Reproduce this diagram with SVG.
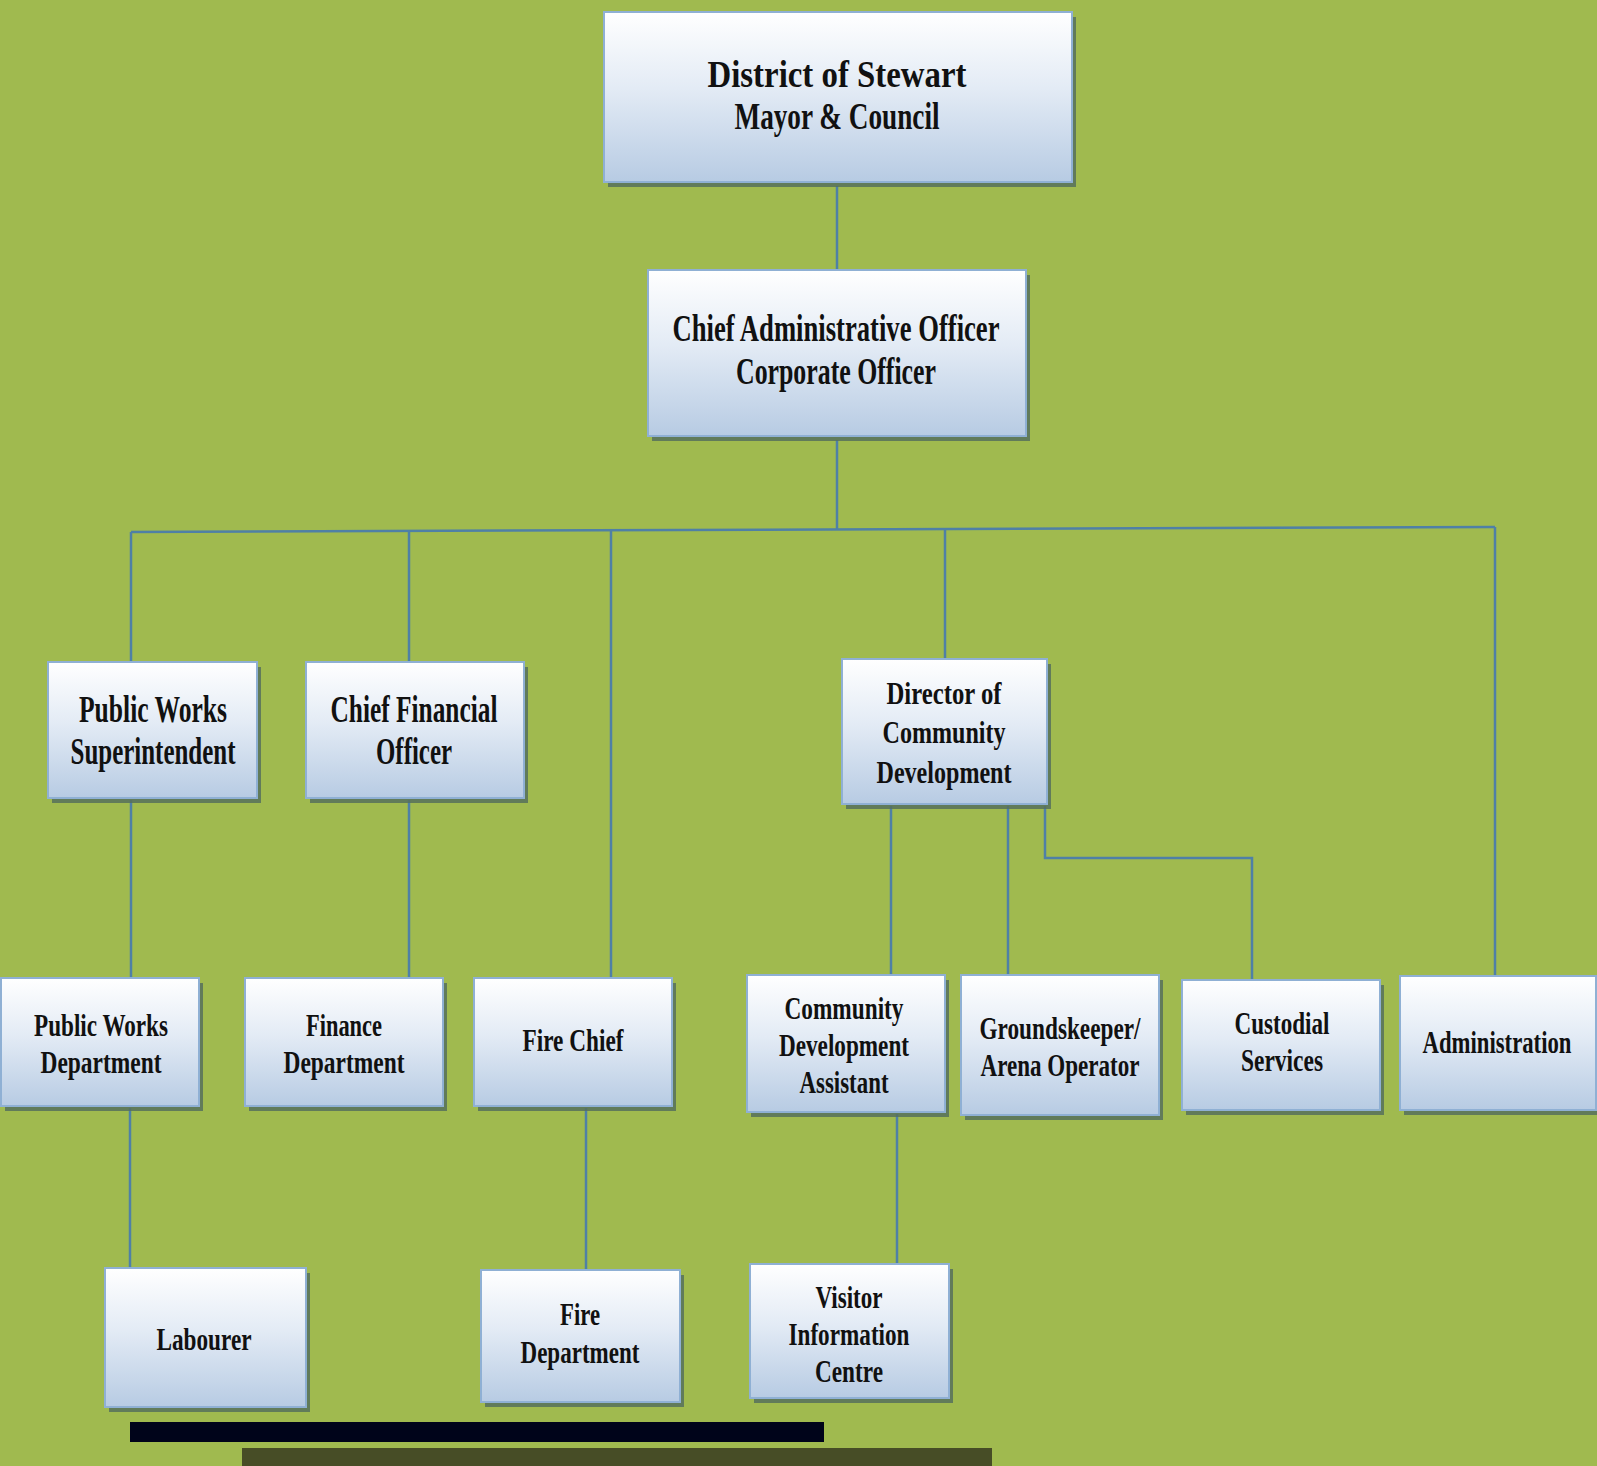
<svg xmlns="http://www.w3.org/2000/svg" width="1597" height="1466" viewBox="0 0 1597 1466">
<defs>
<linearGradient id="g" x1="0" y1="0" x2="0" y2="1">
<stop offset="0" stop-color="#ffffff"/>
<stop offset="0.45" stop-color="#e3ebf5"/>
<stop offset="1" stop-color="#b7cbe3"/>
</linearGradient>
</defs>
<style>
.bg{fill:#a0ba4f}
.box{fill:url(#g);stroke:#8fb0d4;stroke-width:2}
.sh{fill:#56705c;opacity:0.85}
.t{font-family:"Liberation Serif","Times New Roman",serif;font-weight:bold;fill:#111;text-anchor:middle}
.t1{font-size:37px}
.t2{font-size:37px}
.t3{font-size:32px}
.c{fill:none;stroke:#4f80a6;stroke-width:2.5}
</style>
<rect class="bg" x="0" y="0" width="1597" height="1466"/>

<g id="connectors">
<line class="c" x1="837" y1="186" x2="837" y2="270"/>
<line class="c" x1="837" y1="440" x2="837" y2="530"/>
<line class="c" x1="131" y1="532" x2="1495" y2="527"/>
<line class="c" x1="131" y1="532" x2="131" y2="662"/>
<line class="c" x1="409" y1="531" x2="409" y2="662"/>
<line class="c" x1="611" y1="530" x2="611" y2="978"/>
<line class="c" x1="945" y1="529" x2="945" y2="659"/>
<line class="c" x1="1495" y1="527" x2="1495" y2="976"/>
<line class="c" x1="131" y1="800" x2="131" y2="978"/>
<line class="c" x1="409" y1="800" x2="409" y2="978"/>
<line class="c" x1="891" y1="806" x2="891" y2="975"/>
<line class="c" x1="1008" y1="806" x2="1008" y2="975"/>
<polyline class="c" points="1045,806 1045,858 1252,858 1252,980"/>
<line class="c" x1="130" y1="1108" x2="130" y2="1268"/>
<line class="c" x1="586" y1="1108" x2="586" y2="1270"/>
<line class="c" x1="897" y1="1114" x2="897" y2="1264"/>
</g>

<g id="n-mayor">
<rect class="sh" x="608" y="17" width="468" height="170"/>
<rect class="box" x="604" y="12" width="468" height="170"/>
<text class="t t1" x="837" y="87" textLength="259" lengthAdjust="spacingAndGlyphs">District of Stewart</text>
<text class="t t1" x="837" y="129" textLength="205" lengthAdjust="spacingAndGlyphs">Mayor &amp; Council</text>
</g>

<g id="n-cao">
<rect class="sh" x="652" y="275" width="378" height="166"/>
<rect class="box" x="648" y="270" width="378" height="166"/>
<text class="t t1" x="836" y="341" textLength="327" lengthAdjust="spacingAndGlyphs">Chief Administrative Officer</text>
<text class="t t1" x="836" y="384" textLength="200" lengthAdjust="spacingAndGlyphs">Corporate Officer</text>
</g>

<g id="n-pws">
<rect class="sh" x="52" y="667" width="209" height="136"/>
<rect class="box" x="48" y="662" width="209" height="136"/>
<text class="t t2" x="153" y="722" textLength="148" lengthAdjust="spacingAndGlyphs">Public Works</text>
<text class="t t2" x="153" y="764" textLength="165" lengthAdjust="spacingAndGlyphs">Superintendent</text>
</g>

<g id="n-cfo">
<rect class="sh" x="310" y="667" width="218" height="136"/>
<rect class="box" x="306" y="662" width="218" height="136"/>
<text class="t t2" x="414" y="722" textLength="167" lengthAdjust="spacingAndGlyphs">Chief Financial</text>
<text class="t t2" x="414" y="764" textLength="76" lengthAdjust="spacingAndGlyphs">Officer</text>
</g>

<g id="n-director">
<rect class="sh" x="846" y="664" width="205" height="145"/>
<rect class="box" x="842" y="659" width="205" height="145"/>
<text class="t t3" x="944" y="704" textLength="115" lengthAdjust="spacingAndGlyphs">Director of</text>
<text class="t t3" x="944" y="743" textLength="123" lengthAdjust="spacingAndGlyphs">Community</text>
<text class="t t3" x="944" y="783" textLength="135" lengthAdjust="spacingAndGlyphs">Development</text>
</g>

<g id="n-pwd">
<rect class="sh" x="5" y="983" width="198" height="128"/>
<rect class="box" x="1" y="978" width="198" height="128"/>
<text class="t t3" x="101" y="1036" textLength="134" lengthAdjust="spacingAndGlyphs">Public Works</text>
<text class="t t3" x="101" y="1073" textLength="121" lengthAdjust="spacingAndGlyphs">Department</text>
</g>

<g id="n-finance">
<rect class="sh" x="249" y="983" width="198" height="128"/>
<rect class="box" x="245" y="978" width="198" height="128"/>
<text class="t t3" x="344" y="1036" textLength="76" lengthAdjust="spacingAndGlyphs">Finance</text>
<text class="t t3" x="344" y="1073" textLength="121" lengthAdjust="spacingAndGlyphs">Department</text>
</g>

<g id="n-firechief">
<rect class="sh" x="478" y="983" width="198" height="128"/>
<rect class="box" x="474" y="978" width="198" height="128"/>
<text class="t t3" x="573" y="1051" textLength="101" lengthAdjust="spacingAndGlyphs">Fire Chief</text>
</g>

<g id="n-cda">
<rect class="sh" x="751" y="980" width="198" height="137"/>
<rect class="box" x="747" y="975" width="198" height="137"/>
<text class="t t3" x="844" y="1019" textLength="119" lengthAdjust="spacingAndGlyphs">Community</text>
<text class="t t3" x="844" y="1056" textLength="130" lengthAdjust="spacingAndGlyphs">Development</text>
<text class="t t3" x="844" y="1093" textLength="89" lengthAdjust="spacingAndGlyphs">Assistant</text>
</g>

<g id="n-grounds">
<rect class="sh" x="965" y="980" width="198" height="140"/>
<rect class="box" x="961" y="975" width="198" height="140"/>
<text class="t t3" x="1060" y="1039" textLength="161" lengthAdjust="spacingAndGlyphs">Groundskeeper/</text>
<text class="t t3" x="1060" y="1076" textLength="159" lengthAdjust="spacingAndGlyphs">Arena Operator</text>
</g>

<g id="n-custodial">
<rect class="sh" x="1186" y="985" width="198" height="130"/>
<rect class="box" x="1182" y="980" width="198" height="130"/>
<text class="t t3" x="1282" y="1034" textLength="95" lengthAdjust="spacingAndGlyphs">Custodial</text>
<text class="t t3" x="1282" y="1071" textLength="82" lengthAdjust="spacingAndGlyphs">Services</text>
</g>

<g id="n-admin">
<rect class="sh" x="1404" y="981" width="193" height="134"/>
<rect class="box" x="1400" y="976" width="196" height="134"/>
<text class="t t3" x="1497" y="1053" textLength="149" lengthAdjust="spacingAndGlyphs">Administration</text>
</g>

<g id="n-labourer">
<rect class="sh" x="109" y="1273" width="201" height="139"/>
<rect class="box" x="105" y="1268" width="201" height="139"/>
<text class="t t3" x="204" y="1350" textLength="95" lengthAdjust="spacingAndGlyphs">Labourer</text>
</g>

<g id="n-firedept">
<rect class="sh" x="485" y="1275" width="199" height="132"/>
<rect class="box" x="481" y="1270" width="199" height="132"/>
<text class="t t3" x="580" y="1325" textLength="40" lengthAdjust="spacingAndGlyphs">Fire</text>
<text class="t t3" x="580" y="1363" textLength="119" lengthAdjust="spacingAndGlyphs">Department</text>
</g>

<g id="n-visitor">
<rect class="sh" x="754" y="1269" width="199" height="134"/>
<rect class="box" x="750" y="1264" width="199" height="134"/>
<text class="t t3" x="849" y="1308" textLength="67" lengthAdjust="spacingAndGlyphs">Visitor</text>
<text class="t t3" x="849" y="1345" textLength="121" lengthAdjust="spacingAndGlyphs">Information</text>
<text class="t t3" x="849" y="1382" textLength="68" lengthAdjust="spacingAndGlyphs">Centre</text>
</g>

<rect x="130" y="1422" width="694" height="20" fill="#00041a"/>
<rect x="242" y="1448" width="750" height="18" fill="#474d26"/>
</svg>
